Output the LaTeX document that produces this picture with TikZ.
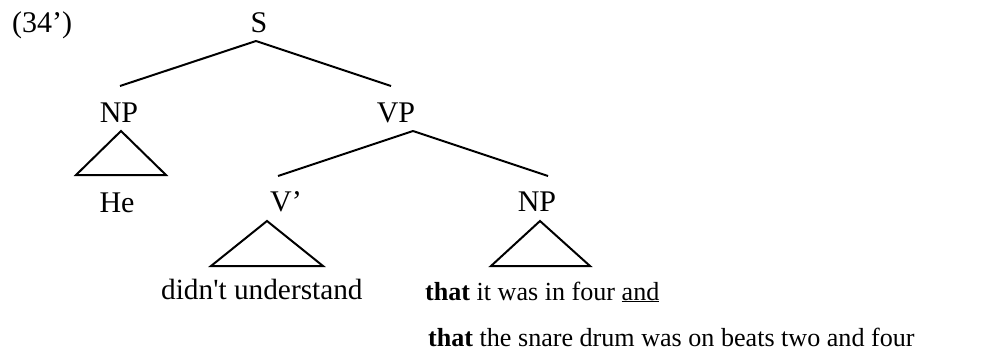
\documentclass[tikz,border=0pt]{standalone}
\usepackage{fontspec}
\setmainfont{Liberation Serif}
\newcommand\straightquote{{\XeTeXglyph\XeTeXcharglyph"0027\relax}}
\begin{document}
\begin{tikzpicture}[x=1pt,y=-1pt,
  lbl/.style={anchor=base,inner sep=0pt,font=\fontsize{30}{36}\selectfont},
  lblw/.style={anchor=base west,inner sep=0pt,font=\fontsize{30}{36}\selectfont},
  small/.style={anchor=base west,inner sep=0pt,font=\fontsize{26.1}{31}\selectfont},
  edge/.style={line width=2pt},
  tri/.style={line width=2pt,line join=miter}]
\useasboundingbox (0,0) rectangle (993,351);
\node[lblw] (num) at (12,32) {(34’)};
\node[lbl] (S) at (259,32) {S};
\node[lbl] (NPa) at (119,122) {NP};
\node[lbl] (VP) at (396,122) {VP};
\node[lbl] (He) at (117,212) {He};
\node[lbl] (Vb) at (286,211) {V’};
\node[lbl] (NPb) at (537,211) {NP};
\node[lblw,font=\fontsize{29.3}{35}\selectfont] (du) at (161,299) {didn\straightquote t understand};
\node[small] (l1) at (425,300) {\textbf{that} it was in four \underline{and}};
\node[small] (l2) at (428,346) {\textbf{that} the snare drum was on beats two and four};
% branch points
\coordinate (Sb) at (256,41);
\coordinate (NPat) at (120,86);
\coordinate (VPt) at (391,86);
\coordinate (VPb) at (413,131);
\coordinate (Vbt) at (278,176);
\coordinate (NPbt) at (548,176);
% triangles
\coordinate (t1a) at (121,131);
\coordinate (t1l) at (76,175);
\coordinate (t1r) at (166,175);
\coordinate (t2a) at (267,221);
\coordinate (t2l) at (211,266);
\coordinate (t2r) at (323,266);
\coordinate (t3a) at (540,221);
\coordinate (t3l) at (491,266);
\coordinate (t3r) at (590,266);
\draw[edge] (Sb) -- (NPat);
\draw[edge] (Sb) -- (VPt);
\draw[edge] (VPb) -- (Vbt);
\draw[edge] (VPb) -- (NPbt);
\draw[tri] (t1a) -- (t1l) -- (t1r) -- cycle;
\draw[tri] (t2a) -- (t2l) -- (t2r) -- cycle;
\draw[tri] (t3a) -- (t3l) -- (t3r) -- cycle;
\end{tikzpicture}
\end{document}
